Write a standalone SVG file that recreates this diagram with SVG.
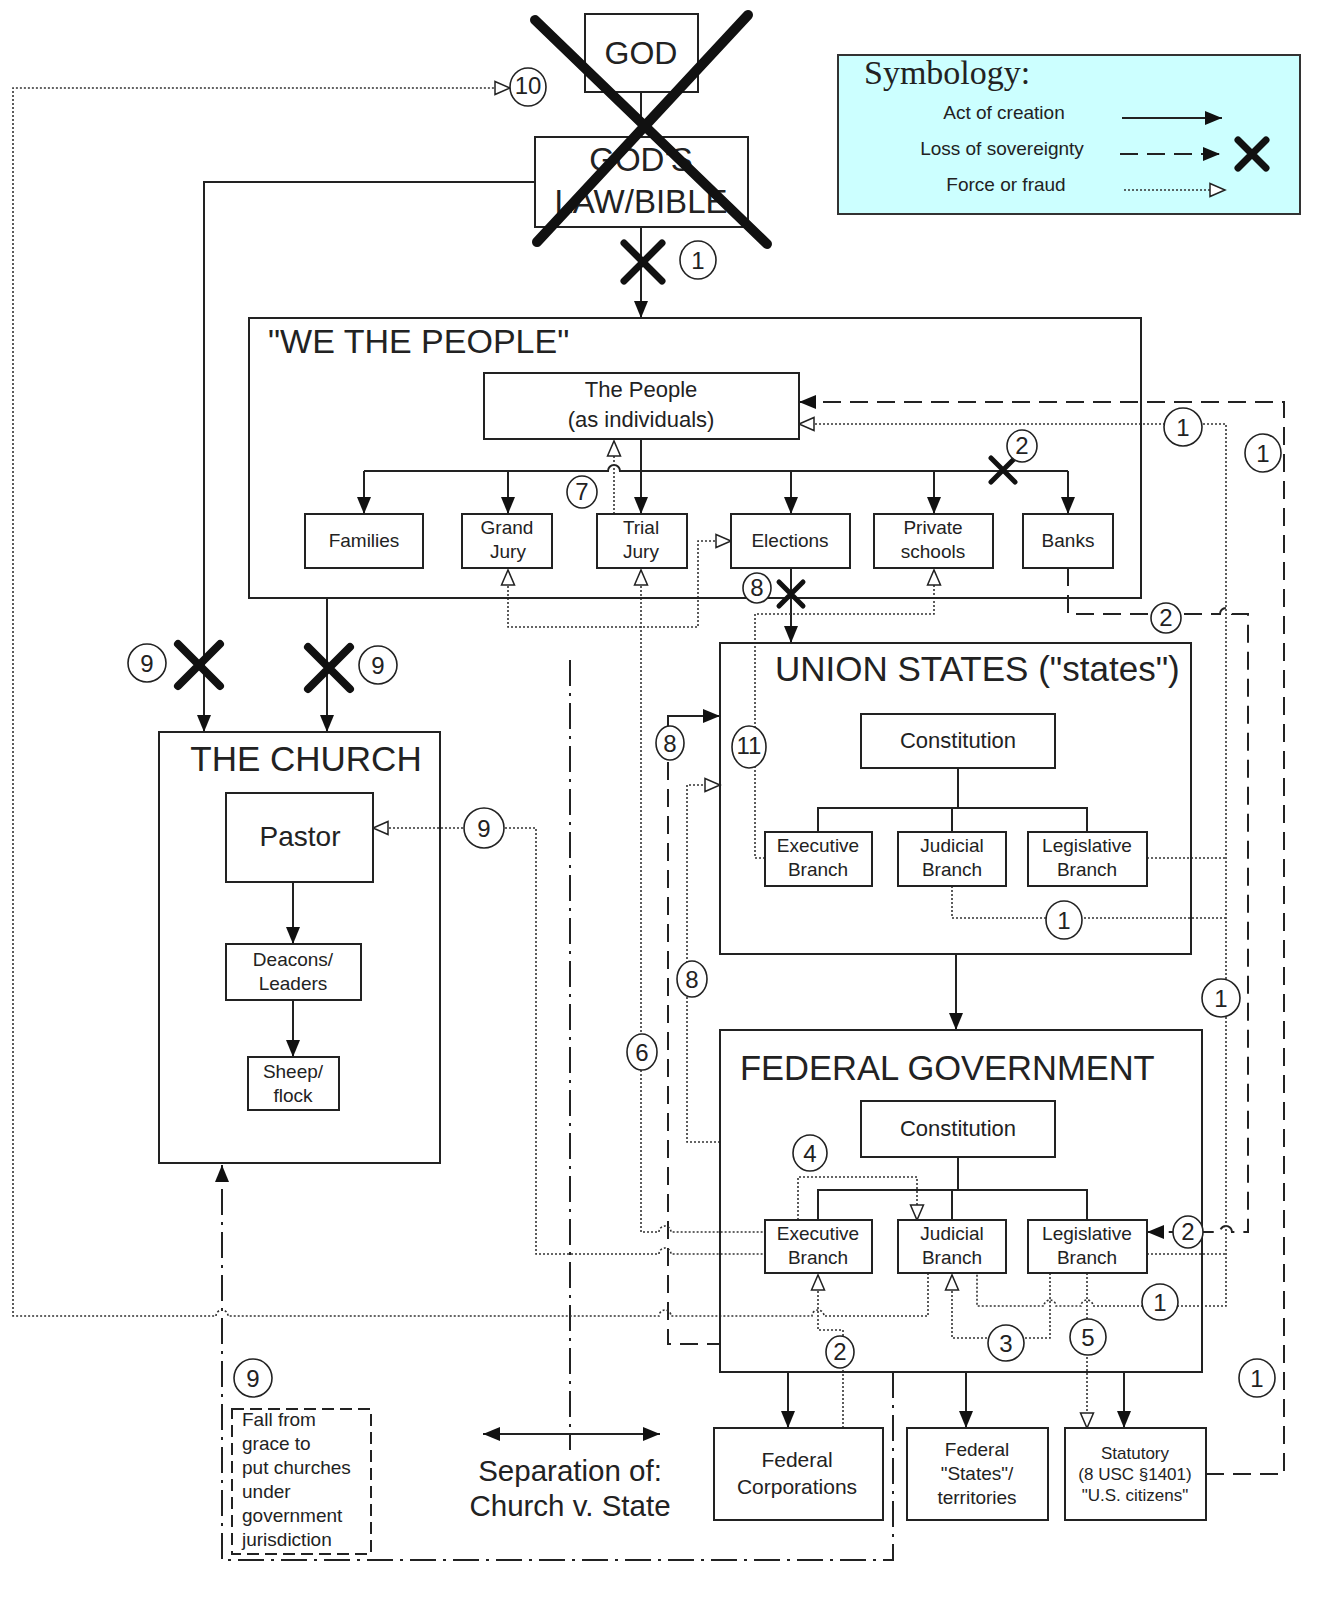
<svg xmlns="http://www.w3.org/2000/svg" width="1340" height="1617" viewBox="0 0 1340 1617">
<style>
.bg{fill:#fff}
.box{fill:#fff;stroke:#222;stroke-width:2}
.ln{fill:none;stroke:#222;stroke-width:2}
.dot{fill:none;stroke:#333;stroke-width:1.6;stroke-dasharray:2 2}
.dash{fill:none;stroke:#222;stroke-width:2;stroke-dasharray:18 9}
.dd{fill:none;stroke:#222;stroke-width:2;stroke-dasharray:26 7 3 7}
.x{stroke:#111;stroke-linecap:round;fill:none}
.num{fill:#fff;stroke:#222;stroke-width:1.6}
.t{font-family:"Liberation Sans",Arial,sans-serif;fill:#222}
.m{text-anchor:middle}
.nt{font-family:"Liberation Sans",Arial,sans-serif;fill:#222;text-anchor:middle;font-size:24px}
</style>
<defs>
<marker id="af" markerUnits="userSpaceOnUse" markerWidth="18" markerHeight="16" refX="17" refY="8" orient="auto-start-reverse"><path d="M0,1 L17,8 L0,15 z" fill="#111"/></marker>
<marker id="ao" markerUnits="userSpaceOnUse" markerWidth="18" markerHeight="16" refX="16" refY="8" orient="auto-start-reverse"><path d="M1,1.5 L16,8 L1,14.5 z" fill="#fff" stroke="#222" stroke-width="1.5"/></marker>
</defs>
<rect class="bg" x="0" y="0" width="1340" height="1617"/>

<g id="legend">
<rect x="838" y="55" width="462" height="159" fill="#ccffff" stroke="#333" stroke-width="2"/>
<text x="864" y="84" font-family="Liberation Serif,serif" font-size="34" fill="#222">Symbology:</text>
<text class="t m" x="1004" y="119" font-size="19">Act of creation</text>
<text class="t m" x="1002" y="155" font-size="19">Loss of sovereignty</text>
<text class="t m" x="1006" y="191" font-size="19">Force or fraud</text>
<path class="ln" d="M1122,118 H1222" marker-end="url(#af)"/>
<path class="dash" d="M1120,154 H1220" stroke-dasharray="22 8" marker-end="url(#af)"/>
<path class="x" stroke-width="7" d="M1238,140 L1266,168 M1266,140 L1238,168"/>
<path class="dot" d="M1124,190 H1225" marker-end="url(#ao)"/>
</g>

<g id="connectors">
<path class="ln" d="M641,92 V137"/>
<path class="ln" d="M641,227 V318" marker-end="url(#af)"/>
<path class="ln" d="M535,182 H204 V732" marker-end="url(#af)"/>
<path class="ln" d="M327,598 V732" marker-end="url(#af)"/>
<path class="ln" d="M641,439 V514" marker-end="url(#af)"/>
<path class="ln" d="M364,471 H608 a6,6 0 0 1 12,0 H1068"/>
<path class="ln" d="M364,471 V514" marker-end="url(#af)"/>
<path class="ln" d="M508,471 V514" marker-end="url(#af)"/>
<path class="ln" d="M791,471 V514" marker-end="url(#af)"/>
<path class="ln" d="M934,471 V514" marker-end="url(#af)"/>
<path class="ln" d="M1068,471 V514" marker-end="url(#af)"/>
<path class="ln" d="M791,568 V643" marker-end="url(#af)"/>
<path class="ln" d="M958,768 V808 M818,832 V808 H1087 V832 M952,808 V832"/>
<path class="ln" d="M956,954 V1030" marker-end="url(#af)"/>
<path class="ln" d="M958,1157 V1190 M818,1220 V1190 H1087 V1220 M952,1190 V1220"/>
<path class="ln" d="M788,1372 V1428" marker-end="url(#af)"/>
<path class="ln" d="M966,1372 V1428" marker-end="url(#af)"/>
<path class="ln" d="M1124,1372 V1428" marker-end="url(#af)"/>
<path class="ln" d="M293,882 V944" marker-end="url(#af)"/>
<path class="ln" d="M293,1000 V1057" marker-end="url(#af)"/>
<path class="ln" d="M668,728 V716 H720" marker-end="url(#af)"/>
<path class="ln" d="M483,1434 H660" marker-start="url(#af)" marker-end="url(#af)"/>

<path class="dash" d="M1206,1474 H1284 V402 H799" marker-end="url(#af)"/>
<path class="dash" d="M1068,568 V614 H1220 a6,6 0 0 1 12,0 H1248 V1232 H1232 a6,6 0 0 0 -12,0 H1147" marker-end="url(#af)"/>
<path class="dash" d="M668,762 V1344 H720"/>

<path class="dd" d="M893,1372 V1560 H222 V1165" marker-end="url(#af)"/>
<path class="dd" d="M570,660 V1450" stroke-dasharray="34 10 3 10"/>

<path class="dot" d="M614,514 V441" marker-end="url(#ao)"/>
<path class="dot" d="M508,570 V627 H698 V541 H731" marker-start="url(#ao)" marker-end="url(#ao)"/>
<path class="dot" d="M641,570 V1232 H659 a6,6 0 0 1 12,0 H765" marker-start="url(#ao)"/>
<path class="dot" d="M765,858 H755 V614 H934 V570" marker-end="url(#ao)"/>
<path class="dot" d="M799,424 H1226 V1306 H1093 a6,6 0 0 0 -12,0 H1056 a6,6 0 0 0 -12,0 H977 V1273" marker-start="url(#ao)"/>
<path class="dot" d="M1147,858 H1226"/>
<path class="dot" d="M952,886 V918 H1226"/>
<path class="dot" d="M1147,1254 H1226"/>
<path class="dot" d="M720,1142 H687 V785 H720" marker-end="url(#ao)"/>
<path class="dot" d="M373,828 H536 V1254 H659 a6,6 0 0 1 12,0 H765" marker-start="url(#ao)"/>
<path class="dot" d="M928,1273 V1316 H824 a6,6 0 0 0 -12,0 H671 a6,6 0 0 0 -12,0 H228 a6,6 0 0 0 -12,0 H13 V88 H510" marker-end="url(#ao)"/>
<path class="dot" d="M798,1220 V1177 H917 V1220" marker-end="url(#ao)"/>
<path class="dot" d="M818,1275 V1330 H843 V1428" marker-start="url(#ao)"/>
<path class="dot" d="M952,1275 V1338 H1050 V1273" marker-start="url(#ao)"/>
<path class="dot" d="M1087,1273 V1428" marker-end="url(#ao)"/>
</g>

<g id="god">
<rect class="box" x="585" y="14" width="113" height="78"/>
<text class="t m" x="641" y="64" font-size="32">GOD</text>
</g>
<g id="gods-law">
<rect class="box" x="535" y="137" width="213" height="90"/>
<text class="t m" x="641" y="171" font-size="33">GOD'S</text>
<text class="t m" x="641" y="213" font-size="33">LAW/BIBLE</text>
</g>

<g id="we-the-people">
<rect x="249" y="318" width="892" height="280" fill="none" stroke="#222" stroke-width="2"/>
<text class="t" x="268" y="353" font-size="34">"WE THE PEOPLE"</text>
</g>
<g id="the-people">
<rect class="box" x="484" y="373" width="315" height="66"/>
<text class="t m" x="641" y="397" font-size="22">The People</text>
<text class="t m" x="641" y="427" font-size="22">(as individuals)</text>
</g>
<g id="families"><rect class="box" x="305" y="514" width="118" height="54"/><text class="t m" x="364" y="547" font-size="19">Families</text></g>
<g id="grand-jury"><rect class="box" x="462" y="514" width="90" height="54"/><text class="t m" x="507" y="534" font-size="19">Grand</text><text class="t m" x="508" y="558" font-size="19">Jury</text></g>
<g id="trial-jury"><rect class="box" x="597" y="514" width="90" height="54"/><text class="t m" x="641" y="534" font-size="19">Trial</text><text class="t m" x="641" y="558" font-size="19">Jury</text></g>
<g id="elections"><rect class="box" x="731" y="514" width="119" height="54"/><text class="t m" x="790" y="547" font-size="19">Elections</text></g>
<g id="private-schools"><rect class="box" x="874" y="514" width="119" height="54"/><text class="t m" x="933" y="534" font-size="19">Private</text><text class="t m" x="933" y="558" font-size="19">schools</text></g>
<g id="banks"><rect class="box" x="1023" y="514" width="90" height="54"/><text class="t m" x="1068" y="547" font-size="19">Banks</text></g>

<g id="union-states">
<rect x="720" y="643" width="471" height="311" fill="none" stroke="#222" stroke-width="2"/>
<text class="t" x="775" y="681" font-size="35">UNION STATES ("states")</text>
</g>
<g id="us-constitution"><rect class="box" x="861" y="714" width="194" height="54"/><text class="t m" x="958" y="748" font-size="22">Constitution</text></g>
<g id="us-executive"><rect class="box" x="765" y="832" width="107" height="54"/><text class="t m" x="818" y="852" font-size="19">Executive</text><text class="t m" x="818" y="876" font-size="19">Branch</text></g>
<g id="us-judicial"><rect class="box" x="898" y="832" width="108" height="54"/><text class="t m" x="952" y="852" font-size="19">Judicial</text><text class="t m" x="952" y="876" font-size="19">Branch</text></g>
<g id="us-legislative"><rect class="box" x="1028" y="832" width="119" height="54"/><text class="t m" x="1087" y="852" font-size="19">Legislative</text><text class="t m" x="1087" y="876" font-size="19">Branch</text></g>

<g id="federal-government">
<rect x="720" y="1030" width="482" height="342" fill="none" stroke="#222" stroke-width="2"/>
<text class="t" x="740" y="1080" font-size="34.5">FEDERAL GOVERNMENT</text>
</g>
<g id="fed-constitution"><rect class="box" x="861" y="1101" width="194" height="56"/><text class="t m" x="958" y="1136" font-size="22">Constitution</text></g>
<g id="fed-executive"><rect class="box" x="765" y="1220" width="107" height="53"/><text class="t m" x="818" y="1240" font-size="19">Executive</text><text class="t m" x="818" y="1264" font-size="19">Branch</text></g>
<g id="fed-judicial"><rect class="box" x="898" y="1220" width="108" height="53"/><text class="t m" x="952" y="1240" font-size="19">Judicial</text><text class="t m" x="952" y="1264" font-size="19">Branch</text></g>
<g id="fed-legislative"><rect class="box" x="1028" y="1220" width="119" height="53"/><text class="t m" x="1087" y="1240" font-size="19">Legislative</text><text class="t m" x="1087" y="1264" font-size="19">Branch</text></g>

<g id="federal-corporations"><rect class="box" x="714" y="1428" width="169" height="92"/><text class="t m" x="797" y="1467" font-size="21">Federal</text><text class="t m" x="797" y="1494" font-size="21">Corporations</text></g>
<g id="federal-states"><rect class="box" x="907" y="1428" width="141" height="92"/><text class="t m" x="977" y="1456" font-size="19">Federal</text><text class="t m" x="977" y="1480" font-size="19">"States"/</text><text class="t m" x="977" y="1504" font-size="19">territories</text></g>
<g id="statutory"><rect class="box" x="1065" y="1428" width="141" height="92"/><text class="t m" x="1135" y="1459" font-size="17">Statutory</text><text class="t m" x="1135" y="1480" font-size="17">(8 USC §1401)</text><text class="t m" x="1135" y="1501" font-size="17">"U.S. citizens"</text></g>

<g id="the-church">
<rect x="159" y="732" width="281" height="431" fill="none" stroke="#222" stroke-width="2"/>
<text class="t m" x="306" y="771" font-size="35">THE CHURCH</text>
</g>
<g id="pastor"><rect class="box" x="226" y="793" width="147" height="89"/><text class="t m" x="300" y="846" font-size="28">Pastor</text></g>
<g id="deacons"><rect class="box" x="226" y="944" width="135" height="56"/><text class="t m" x="293" y="966" font-size="19">Deacons/</text><text class="t m" x="293" y="990" font-size="19">Leaders</text></g>
<g id="sheep"><rect class="box" x="248" y="1057" width="91" height="53"/><text class="t m" x="293" y="1078" font-size="19">Sheep/</text><text class="t m" x="293" y="1102" font-size="19">flock</text></g>

<g id="fall-from-grace">
<rect x="232" y="1409" width="139" height="145" fill="none" stroke="#222" stroke-width="2" stroke-dasharray="12 6"/>
<text class="t" x="242" y="1426" font-size="19">Fall from</text>
<text class="t" x="242" y="1450" font-size="19">grace to</text>
<text class="t" x="242" y="1474" font-size="19">put churches</text>
<text class="t" x="242" y="1498" font-size="19">under</text>
<text class="t" x="242" y="1522" font-size="19">government</text>
<text class="t" x="242" y="1546" font-size="19">jurisdiction</text>
</g>
<g id="separation">
<text class="t m" x="570" y="1481" font-size="29.5">Separation of:</text>
<text class="t m" x="570" y="1516" font-size="29.5">Church v. State</text>
</g>

<g id="x-marks">
<path class="x" stroke-width="10" d="M535,20 L767,244 M748,15 L537,242"/>
<path class="x" stroke-width="7" d="M624,243 L662,281 M662,243 L624,281"/>
<path class="x" stroke-width="5" d="M991,458 L1015,482 M1015,458 L991,482"/>
<path class="x" stroke-width="5" d="M779,582 L803,606 M803,582 L779,606"/>
<path class="x" stroke-width="8" d="M178,644 L220,686 M220,644 L178,686"/>
<path class="x" stroke-width="8" d="M308,647 L350,689 M350,647 L308,689"/>
</g>

<g id="labels">
<ellipse class="num" cx="528" cy="87" rx="18" ry="19"/><text class="nt" x="528" y="94" font-size="18">10</text>
<ellipse class="num" cx="698" cy="260" rx="18" ry="19"/><text class="nt" x="698" y="269">1</text>
<ellipse class="num" cx="1022" cy="446" rx="15" ry="16"/><text class="nt" x="1022" y="454" font-size="21">2</text>
<ellipse class="num" cx="582" cy="492" rx="15" ry="16"/><text class="nt" x="582" y="500" font-size="22">7</text>
<ellipse class="num" cx="1183" cy="427" rx="19" ry="19"/><text class="nt" x="1183" y="436">1</text>
<ellipse class="num" cx="1263" cy="453" rx="18" ry="19"/><text class="nt" x="1263" y="462">1</text>
<ellipse class="num" cx="757" cy="588" rx="14" ry="15"/><text class="nt" x="757" y="596" font-size="21">8</text>
<ellipse class="num" cx="1166" cy="618" rx="15" ry="15"/><text class="nt" x="1166" y="626" font-size="21">2</text>
<ellipse class="num" cx="147" cy="663" rx="19" ry="19"/><text class="nt" x="147" y="672">9</text>
<ellipse class="num" cx="378" cy="665" rx="19" ry="19"/><text class="nt" x="378" y="674">9</text>
<ellipse class="num" cx="670" cy="743" rx="14" ry="17"/><text class="nt" x="670" y="752">8</text>
<ellipse class="num" cx="749" cy="747" rx="17" ry="21"/><text class="nt" x="749" y="754" font-size="18">11</text>
<ellipse class="num" cx="484" cy="828" rx="20" ry="20"/><text class="nt" x="484" y="837">9</text>
<ellipse class="num" cx="1064" cy="920" rx="18" ry="19"/><text class="nt" x="1064" y="929">1</text>
<ellipse class="num" cx="692" cy="979" rx="15" ry="18"/><text class="nt" x="692" y="988">8</text>
<ellipse class="num" cx="1221" cy="998" rx="19" ry="19"/><text class="nt" x="1221" y="1007">1</text>
<ellipse class="num" cx="642" cy="1052" rx="15" ry="18"/><text class="nt" x="642" y="1061">6</text>
<ellipse class="num" cx="810" cy="1153" rx="17" ry="18"/><text class="nt" x="810" y="1162">4</text>
<ellipse class="num" cx="1188" cy="1232" rx="15" ry="16"/><text class="nt" x="1188" y="1240" font-size="22">2</text>
<ellipse class="num" cx="1160" cy="1302" rx="18" ry="18"/><text class="nt" x="1160" y="1311">1</text>
<ellipse class="num" cx="1006" cy="1343" rx="18" ry="18"/><text class="nt" x="1006" y="1352">3</text>
<ellipse class="num" cx="1088" cy="1337" rx="18" ry="18"/><text class="nt" x="1088" y="1346">5</text>
<ellipse class="num" cx="840" cy="1352" rx="14" ry="16"/><text class="nt" x="840" y="1360" font-size="21">2</text>
<ellipse class="num" cx="253" cy="1378" rx="19" ry="19"/><text class="nt" x="253" y="1387">9</text>
<ellipse class="num" cx="1257" cy="1378" rx="18" ry="19"/><text class="nt" x="1257" y="1387">1</text>
</g>
</svg>
